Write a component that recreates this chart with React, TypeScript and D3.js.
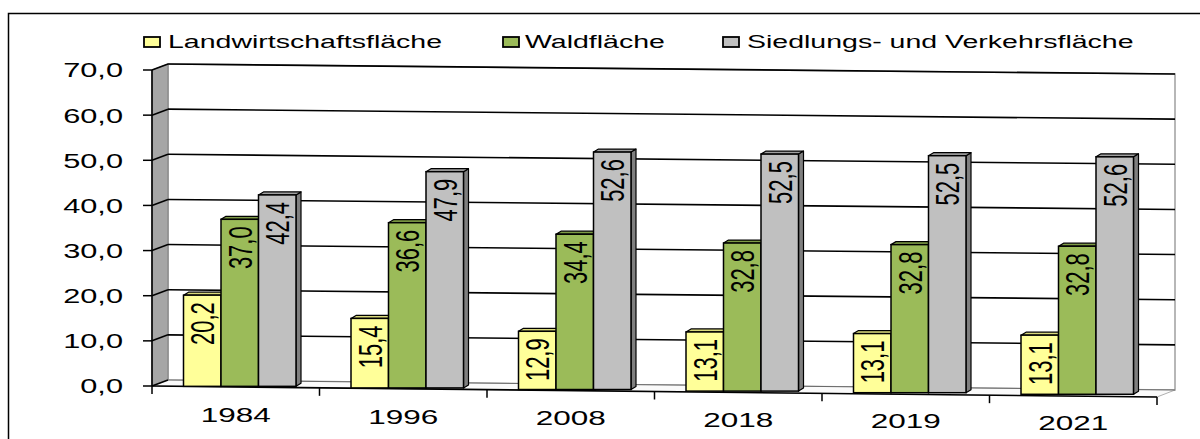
import React from "react";
import * as d3 from "d3";

const years = ["1984", "1996", "2008", "2018", "2019", "2021"];
const seriesNames = ["Landwirtschaftsfläche", "Waldfläche", "Siedlungs- und Verkehrsfläche"];
const landwirtschaft = [20.2, 15.4, 12.9, 13.1, 13.1, 13.1];
const wald = [37.0, 36.6, 34.4, 32.8, 32.8, 32.8];
const siedlung = [42.4, 47.9, 52.6, 52.5, 52.5, 52.6];
const yTicks = [0, 10, 20, 30, 40, 50, 60, 70];

const seriesValues = [landwirtschaft, wald, siedlung];
const faceColors = ["#ffff99", "#9bbb59", "#c0c0c0"];
const topColors = ["#d9d97a", "#7d9a45", "#a0a0a0"];
const sideColors = ["#bfbf6a", "#5f7a2e", "#7f7f7f"];

const FONT = "'Liberation Sans', Arial, sans-serif";
const SX = 1.5; // horizontal stretch of the original image

export default function App() {
  const frontLeft = 152;
  const frontRight = 1157;
  const backLeft = 168;
  const backRight = 1175;
  const frontBase = 386;
  const backBase = 380;
  const kFront = 11 / 1005;
  const kBack = 10 / 1007;

  const y = d3.scaleLinear().domain([0, 70]).range([0, 316]);
  const yFront = (x: number, v: number) => frontBase + (x - frontLeft) * kFront - y(v);
  const yBack = (x: number, v: number) => backBase + (x - backLeft) * kBack - y(v);

  const xCat = d3.scaleBand<string>().domain(years).range([frontLeft, frontRight]);
  const xSer = d3.scaleBand<number>().domain([0, 1, 2]).range([31.5, 31.5 + 112.5]);
  const depthX = 5;
  const depthY = 3;
  const fmt = (v: number) => d3.format(".1f")(v).replace(".", ",");

  const legendItems = [
    { box: 144, text: 168 },
    { box: 503, text: 525 },
    { box: 723, text: 747 },
  ];

  return (
    <svg
      width={1200}
      height={439}
      style={{ position: "absolute", left: 0, top: 0, background: "#fff" }}
      fontFamily={FONT}
    >
      <rect x={8.5} y={13.5} width={1300} height={600} fill="#fff" stroke="#000" strokeWidth={1.5} />

      {/* legend */}
      {seriesNames.map((name, i) => (
        <g key={name}>
          <rect x={legendItems[i].box} y={37} width={16} height={10} fill={faceColors[i]} stroke="#000" strokeWidth={1.8} />
          <text
            transform={`translate(${legendItems[i].text},48) scale(${SX},1)`}
            fontSize={19}
            fill="#000"
          >
            {name}
          </text>
        </g>
      ))}

      {/* back wall */}
      <polygon
        points={`${backLeft},${yBack(backLeft, 70)} ${backRight},${yBack(backRight, 70)} ${backRight},${yBack(backRight, 0)} ${backLeft},${yBack(backLeft, 0)}`}
        fill="#fff"
        stroke="#a0a0a0"
        strokeWidth={1.5}
      />
      {/* left wall */}
      <polygon
        points={`${frontLeft},${yFront(frontLeft, 70)} ${backLeft},${yBack(backLeft, 70)} ${backLeft},${yBack(backLeft, 0)} ${frontLeft},${yFront(frontLeft, 0)}`}
        fill="#a6a6a6"
        stroke="#808080"
        strokeWidth={1}
      />
      {/* floor */}
      <polygon
        points={`${frontLeft},${yFront(frontLeft, 0)} ${backLeft},${yBack(backLeft, 0)} ${backRight},${yBack(backRight, 0)} ${frontRight},${yFront(frontRight, 0)}`}
        fill="#fafafa"
        stroke="#b0b0b0"
        strokeWidth={1}
      />

      {/* gridlines */}
      {yTicks.map((t) => (
        <g key={t}>
          <line
            x1={backLeft}
            y1={yBack(backLeft, t)}
            x2={backRight}
            y2={yBack(backRight, t)}
            stroke="#000"
            strokeWidth={t === 0 ? 1 : 1.6}
            opacity={t === 0 ? 0.4 : 1}
          />
          <line
            x1={frontLeft}
            y1={yFront(frontLeft, t)}
            x2={backLeft}
            y2={yBack(backLeft, t)}
            stroke="#000"
            strokeWidth={1.6}
          />
          <line x1={143} y1={yFront(frontLeft, t)} x2={frontLeft} y2={yFront(frontLeft, t)} stroke="#000" strokeWidth={1.5} />
          <text
            transform={`translate(123,${yFront(frontLeft, t)}) scale(${SX},1)`}
            textAnchor="end"
            dy="0.36em"
            fontSize={20.5}
            fill="#000"
          >
            {fmt(t)}
          </text>
        </g>
      ))}

      {/* y axis front line */}
      <line x1={frontLeft} y1={yFront(frontLeft, 70)} x2={frontLeft} y2={yFront(frontLeft, 0)} stroke="#000" strokeWidth={1.6} />
      {/* x axis front line */}
      <line x1={frontLeft} y1={yFront(frontLeft, 0)} x2={frontRight} y2={yFront(frontRight, 0)} stroke="#000" strokeWidth={1.6} />
      {/* x ticks */}
      {[...years.map((yr) => xCat(yr)!), frontRight].map((tx, i) => (
        <line key={i} x1={tx} y1={yFront(tx, 0)} x2={tx} y2={yFront(tx, 0) + 8} stroke="#000" strokeWidth={1.5} />
      ))}

      {/* bars */}
      {years.map((yr, ci) => {
        const gx = xCat(yr)!;
        const gc = gx + xSer(1)! + xSer.bandwidth() / 2;
        const bottom = 385.5 + (gc - frontLeft) * 0.0095;
        return (
          <g key={yr}>
            {seriesValues.map((vals, si) => {
              const v = vals[ci];
              const x0 = gx + xSer(si)!;
              const w = xSer.bandwidth();
              const top = bottom - y(v);
              const x1 = x0 + w;
              return (
                <g key={si}>
                  <polygon
                    points={`${x1},${top} ${x1 + depthX},${top - depthY} ${x1 + depthX},${bottom - depthY} ${x1},${bottom}`}
                    fill={sideColors[si]}
                    stroke="#000"
                    strokeWidth={1.2}
                    strokeLinejoin="round"
                  />
                  <polygon
                    points={`${x0},${top} ${x0 + depthX},${top - depthY} ${x1 + depthX},${top - depthY} ${x1},${top}`}
                    fill={topColors[si]}
                    stroke="#000"
                    strokeWidth={1.2}
                    strokeLinejoin="round"
                  />
                  <rect x={x0} y={top} width={w} height={bottom - top} fill={faceColors[si]} stroke="#000" strokeWidth={1.5} />
                </g>
              );
            })}
            {seriesValues.map((vals, si) => {
              const v = vals[ci];
              const x0 = gx + xSer(si)!;
              const cx = x0 + xSer.bandwidth() / 2;
              const top = bottom - y(v);
              return (
                <text
                  key={"l" + si}
                  transform={`translate(${cx},${top + 7}) scale(${SX},1) rotate(-90)`}
                  textAnchor="end"
                  dy="0.36em"
                  fontSize={22}
                  fill="#000"
                >
                  {fmt(v)}
                </text>
              );
            })}
            <text
              transform={`translate(${gx + xCat.bandwidth() / 2},${422 + (gx + xCat.bandwidth() / 2 - 236) * 0.0095}) scale(${SX},1)`}
              textAnchor="middle"
              fontSize={21}
              fill="#000"
            >
              {yr}
            </text>
          </g>
        );
      })}
    </svg>
  );
}
